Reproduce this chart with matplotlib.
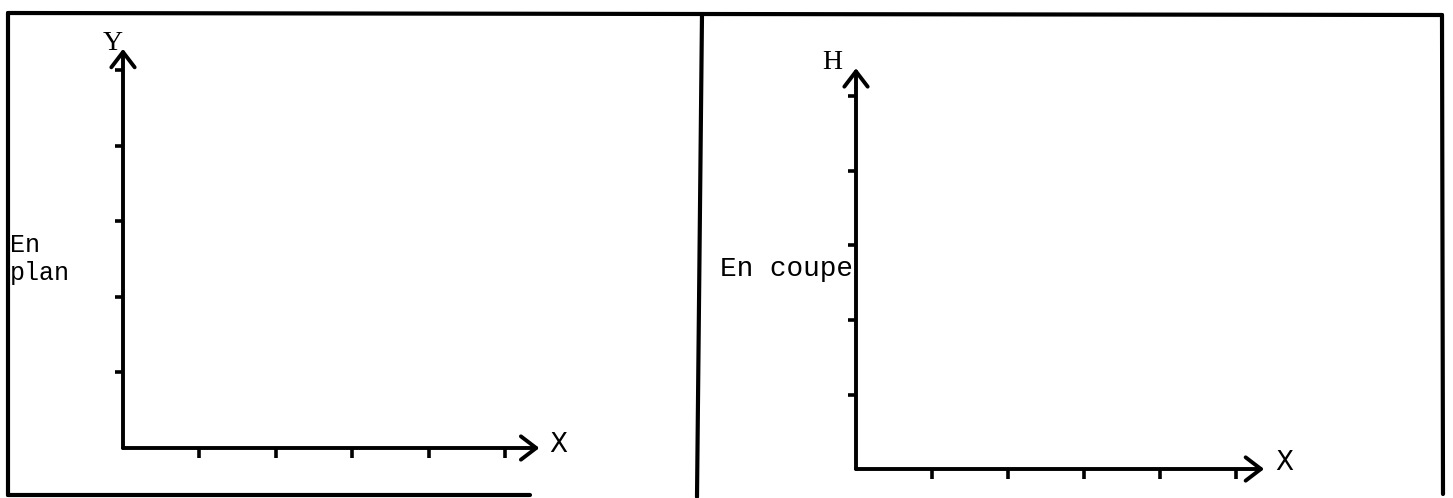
import matplotlib.pyplot as plt
from matplotlib.lines import Line2D

# what each of the two sketches shows
panel_labels = ['En\nplan', 'En coupe']
x_names = ['X', 'X']
y_names = ['Y', 'H']
x_ticks = [1, 2, 3, 4, 5]
y_ticks = [1, 2, 3, 4, 5]
x_tip = [5.45, 5.37]     # where the arrow heads sit, in tick units
y_tip = [5.28, 5.38]

W, H = 1453, 498
fig = plt.figure(figsize=(W / 100, H / 100), dpi=100)


def fx(x):
    return x / W


def fy(y):
    return 1 - y / H


# page layout, in pixels of the scan
origins = [(123, 448), (856, 469)]
units = [(76.4, 75.6), (76.0, 74.5)]
label_pos = [(10, 233), (720, 256)]
label_size = [18, 20]
x_off = [(19, 3), (20, 6)]
y_off = [(-10, 5), (-24, 6)]

# the frames round the two sketches
frame = [
    [(8, 13), (700, 14)],
    [(8, 13), (8, 495)],
    [(8, 495), (530, 495)],
    [(702, 14), (697, 497)],
    [(700, 14), (1442, 15)],
    [(1442, 15), (1443, 494)],
]
for (x0, y0), (x1, y1) in frame:
    fig.add_artist(Line2D([fx(x0), fx(x1)], [fy(y0), fy(y1)], color='black',
                          lw=3.0, solid_capstyle='round', transform=fig.transFigure))

for i in range(2):
    ox, oy = origins[i]
    ux, uy = units[i]
    ax = fig.add_axes([fx(ox), fy(oy), x_tip[i] * ux / W, y_tip[i] * uy / H])
    ax.set_xlim(0, x_tip[i])
    ax.set_ylim(0, y_tip[i])
    ax.patch.set_visible(False)
    for s in ax.spines.values():
        s.set_visible(False)
    ax.set_xticks(x_ticks)
    ax.set_yticks(y_ticks)
    ax.tick_params(axis='x', direction='out', length=7, width=2.6, labelbottom=False)
    ax.tick_params(axis='y', direction='out', length=6, width=2.6, labelleft=False)

    # axes drawn as arrows
    arrow = dict(arrowstyle='->,head_length=0.55,head_width=0.42', lw=2.8, color='black',
                 shrinkA=0, shrinkB=0, mutation_scale=20)
    ax.annotate('', xy=(x_tip[i], 0), xytext=(0, 0), arrowprops=arrow, annotation_clip=False)
    ax.annotate('', xy=(0, y_tip[i]), xytext=(0, 0), arrowprops=arrow, annotation_clip=False)

    ax.annotate(x_names[i], xy=(x_tip[i], 0), xytext=x_off[i], textcoords='offset pixels',
                ha='center', va='center', fontsize=19, family='DejaVu Sans',
                annotation_clip=False)
    ax.annotate(y_names[i], xy=(0, y_tip[i]), xytext=y_off[i], textcoords='offset pixels',
                ha='center', va='center', fontsize=20, family='Liberation Serif',
                annotation_clip=False)

    lx, ly = label_pos[i]
    fig.text(fx(lx), fy(ly), panel_labels[i], ha='left', va='top', family='Liberation Mono',
             fontsize=label_size[i], linespacing=1.2)

fig.savefig('out.png', dpi=100)
